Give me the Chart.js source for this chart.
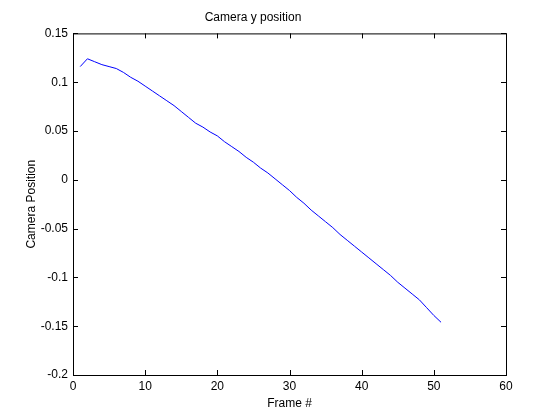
<!DOCTYPE html>
<html>
<head>
<meta charset="utf-8">
<script src="https://cdn.jsdelivr.net/npm/chart.js@4/dist/chart.umd.min.js"></script>
<style>
  html, body { margin: 0; padding: 0; background: #fff; }
  #wrap { width: 560px; height: 420px; }
</style>
</head>
<body>
<div id="wrap"><canvas id="chart-camera-y" width="560" height="420"></canvas></div>
<script>
/* Camera y position vs frame */

const frames = [
    1, 2, 3, 4, 5, 6, 7, 8, 9, 10,
    11, 12, 13, 14, 15, 16, 17, 18, 19, 20,
    21, 22, 23, 24, 25, 26, 27, 28, 29, 30,
    31, 32, 33, 34, 35, 36, 37, 38, 39, 40,
    41, 42, 43, 44, 45, 46, 47, 48, 49, 50,
    51,
];

const cameraY = [
    0.116, 0.124, 0.121, 0.118, 0.116, 0.114, 0.110, 0.105, 0.101, 0.096,
    0.091, 0.086, 0.081, 0.076, 0.070, 0.064, 0.058, 0.054, 0.049, 0.045,
    0.039, 0.034, 0.029, 0.023, 0.018, 0.012, 0.007, 0.001, -0.005, -0.011,
    -0.018, -0.024, -0.031, -0.037, -0.043, -0.049, -0.056, -0.062, -0.068, -0.074,
    -0.080, -0.086, -0.092, -0.098, -0.105, -0.111, -0.117, -0.123, -0.131, -0.139,
    -0.146,
];

const xTicks = [0, 10, 20, 30, 40, 50, 60];
const yTicks = [-0.2, -0.15, -0.1, -0.05, 0, 0.05, 0.1, 0.15];

const FONT = { family: '"Liberation Sans", Arial, sans-serif', size: 12 };

// box round the plot area, with inward ticks on all four sides
const boxAndTicks = {
    id: 'boxAndTicks',
    afterDraw(chart) {
        const { ctx, chartArea: a, scales: { x, y } } = chart;
        const len = 5;
        ctx.save();
        ctx.strokeStyle = '#000';
        ctx.lineWidth = 1;
        ctx.strokeRect(a.left + 0.5, a.top + 0.5, a.right - a.left, a.bottom - a.top);
        ctx.beginPath();
        x.ticks.forEach(t => {
            const px = Math.round(x.getPixelForValue(t.value)) + 0.5;
            ctx.moveTo(px, a.bottom); ctx.lineTo(px, a.bottom - len);
            ctx.moveTo(px, a.top); ctx.lineTo(px, a.top + len);
        });
        y.ticks.forEach(t => {
            const py = Math.round(y.getPixelForValue(t.value)) + 0.5;
            ctx.moveTo(a.left, py); ctx.lineTo(a.left + len, py);
            ctx.moveTo(a.right, py); ctx.lineTo(a.right - len, py);
        });
        ctx.stroke();
        ctx.restore();
    },
};

new Chart(document.getElementById('chart-camera-y'), {
    type: 'line',
    data: {
        datasets: [{
            data: frames.map((f, i) => ({ x: f, y: cameraY[i] })),
            borderColor: '#0000ff',
            borderWidth: 1,
            pointRadius: 0,
            tension: 0,
            fill: false,
        }],
    },
    options: {
        responsive: false,
        animation: false,
        layout: { padding: { top: 0, right: 54, bottom: 0, left: 0 } },
        plugins: {
            legend: { display: false },
            tooltip: { enabled: false },
            title: {
                display: true,
                text: 'Camera y position',
                color: '#000',
                font: { ...FONT, weight: 'normal' },
                padding: { top: 10, bottom: 9 },
            },
        },
        scales: {
            x: {
                type: 'linear',
                min: xTicks[0],
                max: xTicks[xTicks.length - 1],
                afterBuildTicks: s => { s.ticks = xTicks.map(v => ({ value: v })); },
                afterFit: s => { s.height = 45; },
                grid: { display: false, drawTicks: false },
                border: { display: false },
                ticks: { color: '#000', font: FONT, padding: 4, maxRotation: 0 },
                title: {
                    display: true,
                    text: 'Frame #',
                    color: '#000',
                    font: FONT,
                    padding: { top: 0, bottom: 9 },
                },
            },
            y: {
                type: 'linear',
                min: yTicks[0],
                max: yTicks[yTicks.length - 1],
                afterBuildTicks: s => { s.ticks = yTicks.map(v => ({ value: v })); },
                afterFit: s => { s.width = 73; },
                grid: { display: false, drawTicks: false },
                border: { display: false },
                ticks: {
                    color: '#000',
                    font: FONT,
                    padding: 5,
                    callback: v => String(Number(v.toFixed(2))),
                },
                title: {
                    display: true,
                    text: 'Camera Position',
                    color: '#000',
                    font: FONT,
                    padding: { top: 24, bottom: 0 },
                },
            },
        },
    },
    plugins: [boxAndTicks],
});
</script>
</body>
</html>
